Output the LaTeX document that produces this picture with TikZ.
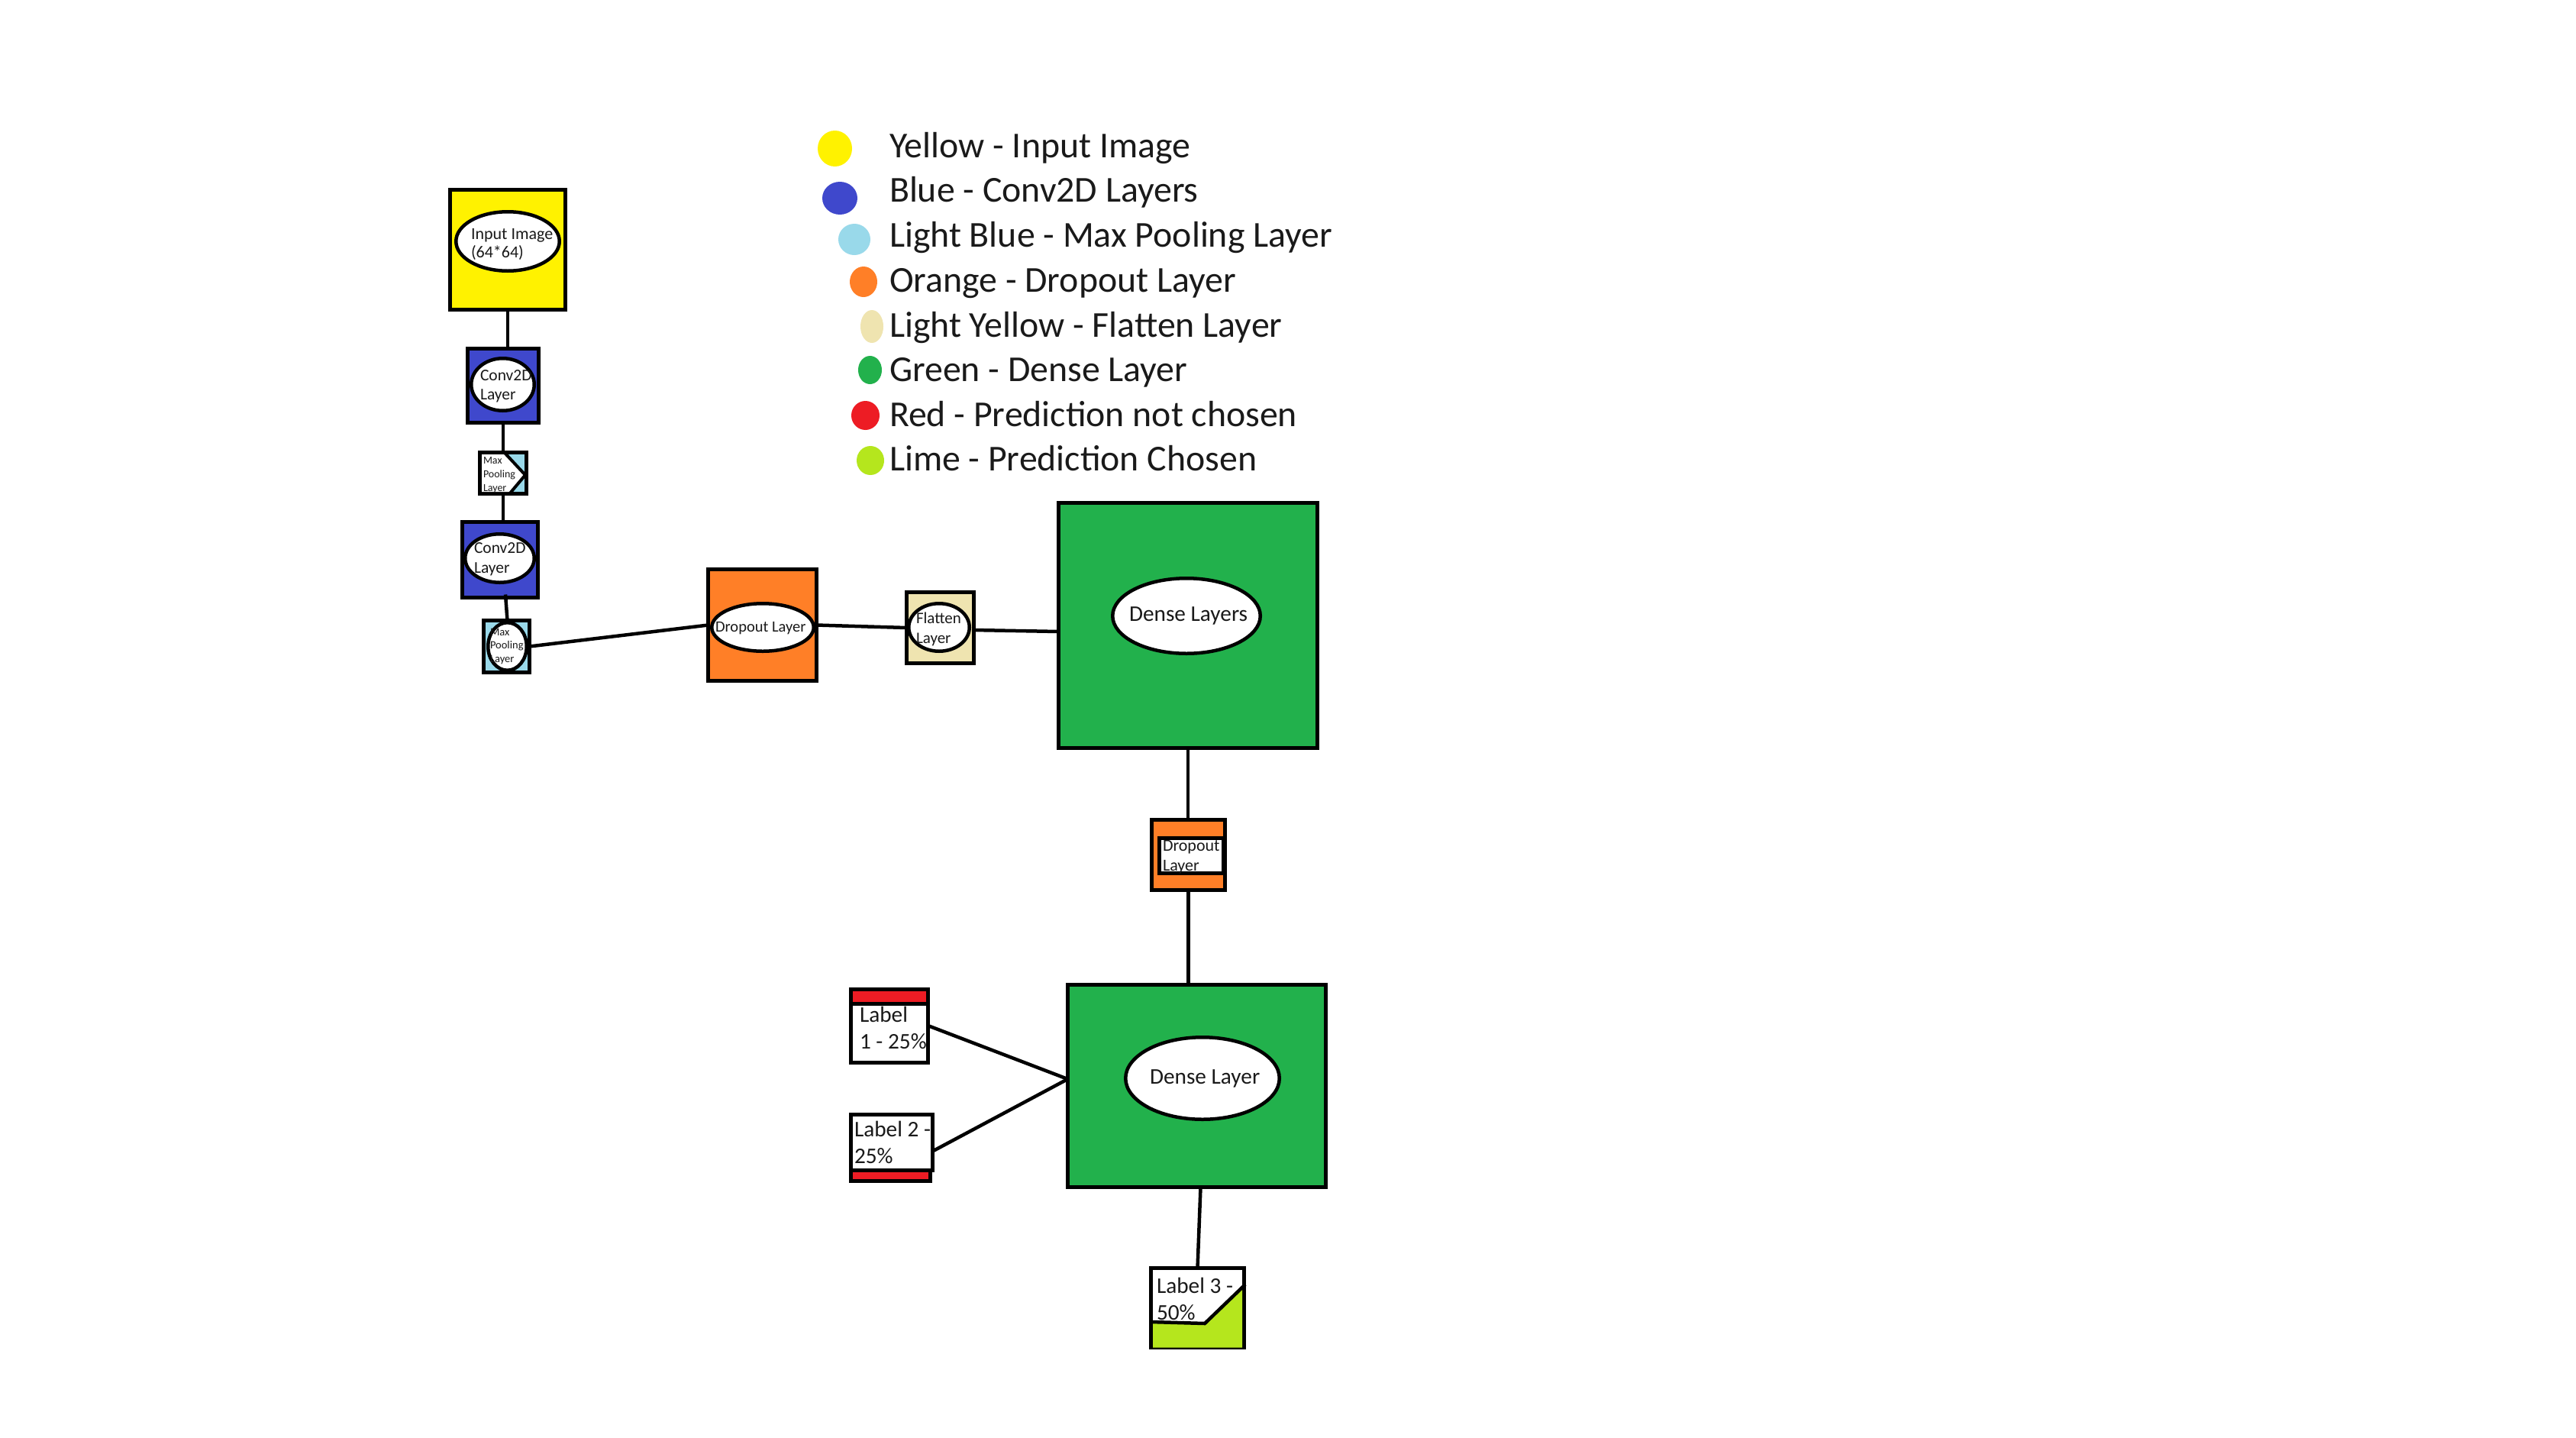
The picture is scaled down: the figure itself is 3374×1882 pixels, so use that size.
\documentclass[tikz,border=0pt]{standalone}
\usepackage{fontspec}
\setmainfont{Carlito}
\usetikzlibrary{shapes.geometric,calc}
\definecolor{cyellow}{HTML}{FFF200}
\definecolor{cblue}{HTML}{3F48CC}
\definecolor{clblue}{HTML}{99D9EA}
\definecolor{corange}{HTML}{FF7F27}
\definecolor{clyellow}{HTML}{EFE4B0}
\definecolor{cgreen}{HTML}{22B14C}
\definecolor{cred}{HTML}{ED1C24}
\definecolor{clime}{HTML}{B5E61D}
\definecolor{txt}{HTML}{1A1A1A}
\newcommand\mlines[1]{\begin{tabular}[t]{@{}l@{}}#1\end{tabular}}
\newcommand\fsz[2]{\fontsize{#1}{#2}\selectfont}
\begin{document}
\begin{tikzpicture}[x=1pt,y=-1pt,
  box/.style={draw=black, line width=5pt, rectangle, inner sep=0pt, outer sep=0pt},
  ell/.style={draw=black, line width=4.5pt, ellipse, fill=white, inner sep=0pt, outer sep=0pt},
  lbl/.style={inner sep=0pt, outer sep=0pt, anchor=base west, text=txt},
  conn/.style={draw=black, line width=4.5pt},
  edgeline/.style={draw=black, line width=4pt, line join=miter},
  dot/.style={ellipse, inner sep=0pt, outer sep=0pt, draw=none},
  legtext/.style={lbl, font={\fsz{47.8}{57}}}]
\fill[white] (0,0) rectangle (3374,1882);
\useasboundingbox (0,0) rectangle (3374,1882);

% ---------- legend ----------
\node[dot, fill=cyellow, minimum width=45, minimum height=47] (lg1) at (1093.5,194.5) {};
\node[dot, fill=cblue, minimum width=46, minimum height=43] (lg2) at (1100,259.5) {};
\node[dot, fill=clblue, minimum width=42, minimum height=41] (lg3) at (1119,313.5) {};
\node[dot, fill=corange, minimum width=36, minimum height=40] (lg4) at (1131,369) {};
\node[dot, fill=clyellow, minimum width=30, minimum height=43] (lg5) at (1142,427.5) {};
\node[dot, fill=cgreen, minimum width=31, minimum height=37] (lg6) at (1139.5,484.5) {};
\node[dot, fill=cred, minimum width=37, minimum height=38] (lg7) at (1133.5,544) {};
\node[dot, fill=clime, minimum width=36, minimum height=38] (lg8) at (1140,603) {};
\node[legtext] (lt1) at (1165,206) {Yellow - Input Image};
\node[legtext] (lt2) at (1165,264) {Blue - Conv2D Layers};
\node[legtext] (lt3) at (1165,323) {Light Blue - Max Pooling Layer};
\node[legtext] (lt4) at (1165,382) {Orange - Dropout Layer};
\node[legtext] (lt5) at (1165,441) {Light Yellow - Flatten Layer};
\node[legtext] (lt6) at (1165,499) {Green - Dense Layer};
\node[legtext] (lt7) at (1165,558) {Red - Prediction not chosen};
\node[legtext] (lt8) at (1165,616) {Lime - Prediction Chosen};

% ---------- input ----------
\node[box, fill=cyellow, minimum width=151, minimum height=157] (inbox) at (665,327) {};
\node[ell, minimum width=135.5, minimum height=77.5] (inell) at (665,316) {};
\node[lbl, font={\fsz{22}{24}}] (intxt) at (617,313) {\mlines{Input Image\\(64*64)}};

% ---------- conv 1 ----------
\node[box, fill=cblue, minimum width=93, minimum height=97] (c1) at (659,505) {};
\node[ell, minimum width=82.5, minimum height=68.5] (c1e) at (658.5,503.5) {};
\node[lbl, font={\fsz{21.5}{25}}] (c1t) at (629,498) {\mlines{Conv2D\\Layer}};

% ---------- max pool 1 ----------
\node[box, fill=clblue, minimum width=61, minimum height=54] (mp1) at (659,619.5) {};
\fill[white] (631,595) -- (662,595) -- (687,622) -- (668,644) -- (631,644) -- cycle;
\draw[edgeline] (661,593) -- (688,622) -- (667,647);
\node[lbl, font={\fsz{14}{18}}] (mp1t) at (633,607) {\mlines{Max\\Pooling\\Layer}};

% ---------- conv 2 ----------
\node[box, fill=cblue, minimum width=99, minimum height=99] (c2) at (655,733) {};
\node[ell, minimum width=90.5, minimum height=63.5] (c2e) at (654.5,731) {};
\node[lbl, font={\fsz{21.5}{26}}] (c2t) at (621,724) {\mlines{Conv2D\\Layer}};

% ---------- max pool 2 ----------
\node[box, fill=clblue, minimum width=60, minimum height=68] (mp2) at (663.5,846.5) {};
\node[ell, minimum width=50.5, minimum height=62.5] (mp2e) at (664.5,846.5) {};
\node[lbl, font={\fsz{14.5}{17.5}}] (mp2t) at (642,832) {\mlines{Max\\Pooling\\Layer}};

% ---------- dropout 1 ----------
\node[box, fill=corange, minimum width=142, minimum height=146] (do1) at (998.5,818.5) {};
\node[ell, minimum width=133.5, minimum height=62.5] (do1e) at (999,821.5) {};
\node[lbl, font={\fsz{20.5}{24}}] (do1t) at (937,827) {Dropout Layer};

% ---------- flatten ----------
\node[box, fill=clyellow, minimum width=88, minimum height=93] (fl) at (1231.5,822) {};
\node[ell, minimum width=79.5, minimum height=62.5] (fle) at (1230,821.5) {};
\node[lbl, font={\fsz{21}{26}}] (flt) at (1200,816) {\mlines{Flatten\\Layer}};

% ---------- dense 1 ----------
\node[box, fill=cgreen, minimum width=339, minimum height=321] (d1) at (1556,819) {};
\node[ell, minimum width=193.5, minimum height=98.5] (d1e) at (1554,806.5) {};
\node[lbl, font={\fsz{29.3}{34}}] (d1t) at (1479,813) {Dense Layers};

% ---------- dropout 2 ----------
\node[box, fill=corange, minimum width=96, minimum height=92] (do2) at (1556.5,1119.5) {};
\node[box, fill=white, line width=4.5pt, minimum width=84, minimum height=46] (do2i) at (1560.5,1120.5) {};
\node[lbl, font={\fsz{22}{26}}] (do2t) at (1523,1114) {\mlines{Dropout\\Layer}};

% ---------- dense 2 ----------
\node[box, fill=cgreen, minimum width=338, minimum height=265] (d2) at (1567.5,1422) {};
\node[ell, minimum width=201.5, minimum height=107.5] (d2e) at (1575,1412) {};
\node[lbl, font={\fsz{29.3}{34}}] (d2t) at (1506,1419) {Dense Layer};

% ---------- label 1 ----------
\node[box, fill=cred, minimum width=101, minimum height=18.5] (l1bar) at (1165,1304.75) {};
\node[box, fill=white, minimum width=101, minimum height=77.5] (l1) at (1165,1352.75) {};
\node[lbl, font={\fsz{29.3}{35}}] (l1t) at (1126,1338) {\mlines{Label\\1 - 25\%}};

% ---------- label 2 ----------
\node[box, fill=white, minimum width=106.5, minimum height=72.5] (l2) at (1167.75,1495.75) {};
\node[box, fill=cred, minimum width=104, minimum height=14] (l2bar) at (1166.5,1539) {};
\node[lbl, font={\fsz{29.3}{35}}] (l2t) at (1119,1488) {\mlines{Label 2 -\\25\%}};

% ---------- label 3 ----------
\node[box, fill=white, minimum width=122, minimum height=104] (l3) at (1568.5,1712.5) {};
\fill[clime] (1510,1732) -- (1578,1733) -- (1627,1686) -- (1627,1764.5) -- (1510,1764.5) -- cycle;
\draw[edgeline, line width=4.5pt] (1508,1731) -- (1578,1733) -- (1631,1682);
\node[lbl, font={\fsz{29.3}{35}}] (l3t) at (1515,1693) {\mlines{Label 3 -\\50\%}};

% ---------- connectors ----------
\coordinate (j) at ($(d2.west)+(0,-9)$);
\draw[conn] (inbox.south) -- (inbox.south |- c1.north);
\draw[conn] (c1.south) -- (mp1.north);
\draw[conn] (mp1.south) -- (mp1.south |- c2.north);
\draw[conn] ($(c2.south)+(7,-4)$) -- ($(mp2.north)+(1,0)$);
\draw[conn] (mp2.east) -- (do1.west);
\draw[conn] (do1.east) -- (fl.west);
\draw[conn] ($(fl.east)+(0,3)$) -- ($(d1.west)+(0,8)$);
\draw[conn] (d1.south) -- (d1.south |- do2.north);
\draw[conn] (do2.south) -- (do2.south |- d2.north);
\draw[conn] ($(l1.east)+(0,-9.75)$) -- (j);
\draw[conn] ($(l2.east)+(0,12)$) -- (j);
\draw[conn] ($(d2.south)+(5,0)$) -- (l3.north);
\end{tikzpicture}
\end{document}
